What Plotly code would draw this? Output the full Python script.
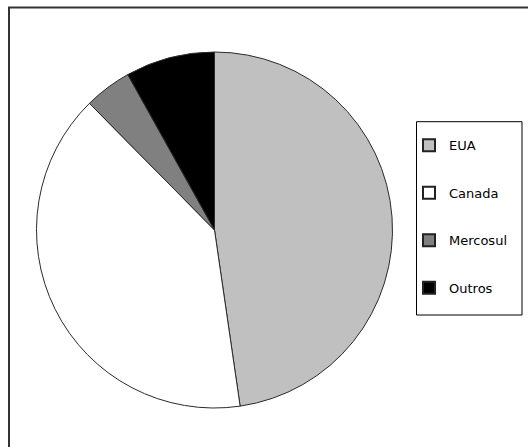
import plotly.graph_objects as go

# Share of exports by destination (%)
labels = ["EUA", "Canada", "Mercosul", "Outros"]
values = [47.7, 39.9, 4.3, 8.1]
colors = ["#c0c0c0", "#ffffff", "#808080", "#000000"]

W, H = 528, 447

fig = go.Figure()

fig.add_trace(go.Pie(
    labels=labels,
    values=values,
    sort=False,
    direction="clockwise",
    rotation=0,
    marker=dict(colors=colors, line=dict(color="#2a2a2a", width=1)),
    textinfo="none",
    hoverinfo="label+percent",
    showlegend=False,
    domain=dict(x=[36.5 / W, 392.5 / W], y=[37 / H, 397 / H]),
))

# Legend entries, one group per category so the rows can be spaced apart
for name, c in zip(labels, colors):
    fig.add_trace(go.Scatter(
        x=[None], y=[None], mode="markers", name=name,
        legendgroup=name,
        marker=dict(symbol="square", size=8, color=c,
                    line=dict(color="#222222", width=1)),
        hoverinfo="skip",
    ))

fig.update_layout(
    width=W, height=H,
    margin=dict(l=0, r=0, t=0, b=0),
    paper_bgcolor="white",
    plot_bgcolor="white",
    font=dict(family="DejaVu Sans", size=13, color="#000000"),
    xaxis=dict(visible=False),
    yaxis=dict(visible=False),
    legend=dict(
        x=409 / W, y=1 - 130.4 / H, xanchor="left", yanchor="top",
        bgcolor="rgba(0,0,0,0)", borderwidth=0,
        tracegroupgap=27.6, itemsizing="constant",
        font=dict(family="DejaVu Sans", size=13, color="#000000"),
    ),
    shapes=[
        # outer chart frame
        dict(type="rect", xref="paper", yref="paper",
             x0=9 / W, x1=1.1, y0=-0.1, y1=1 - 7.5 / H,
             line=dict(color="#333333", width=2), layer="below"),
        # legend box
        dict(type="rect", xref="paper", yref="paper",
             x0=416.5 / W, x1=522 / W, y0=1 - 315 / H, y1=1 - 121.7 / H,
             line=dict(color="#000000", width=1), fillcolor="white",
             layer="below"),
    ],
)

fig.write_html("out.html")
